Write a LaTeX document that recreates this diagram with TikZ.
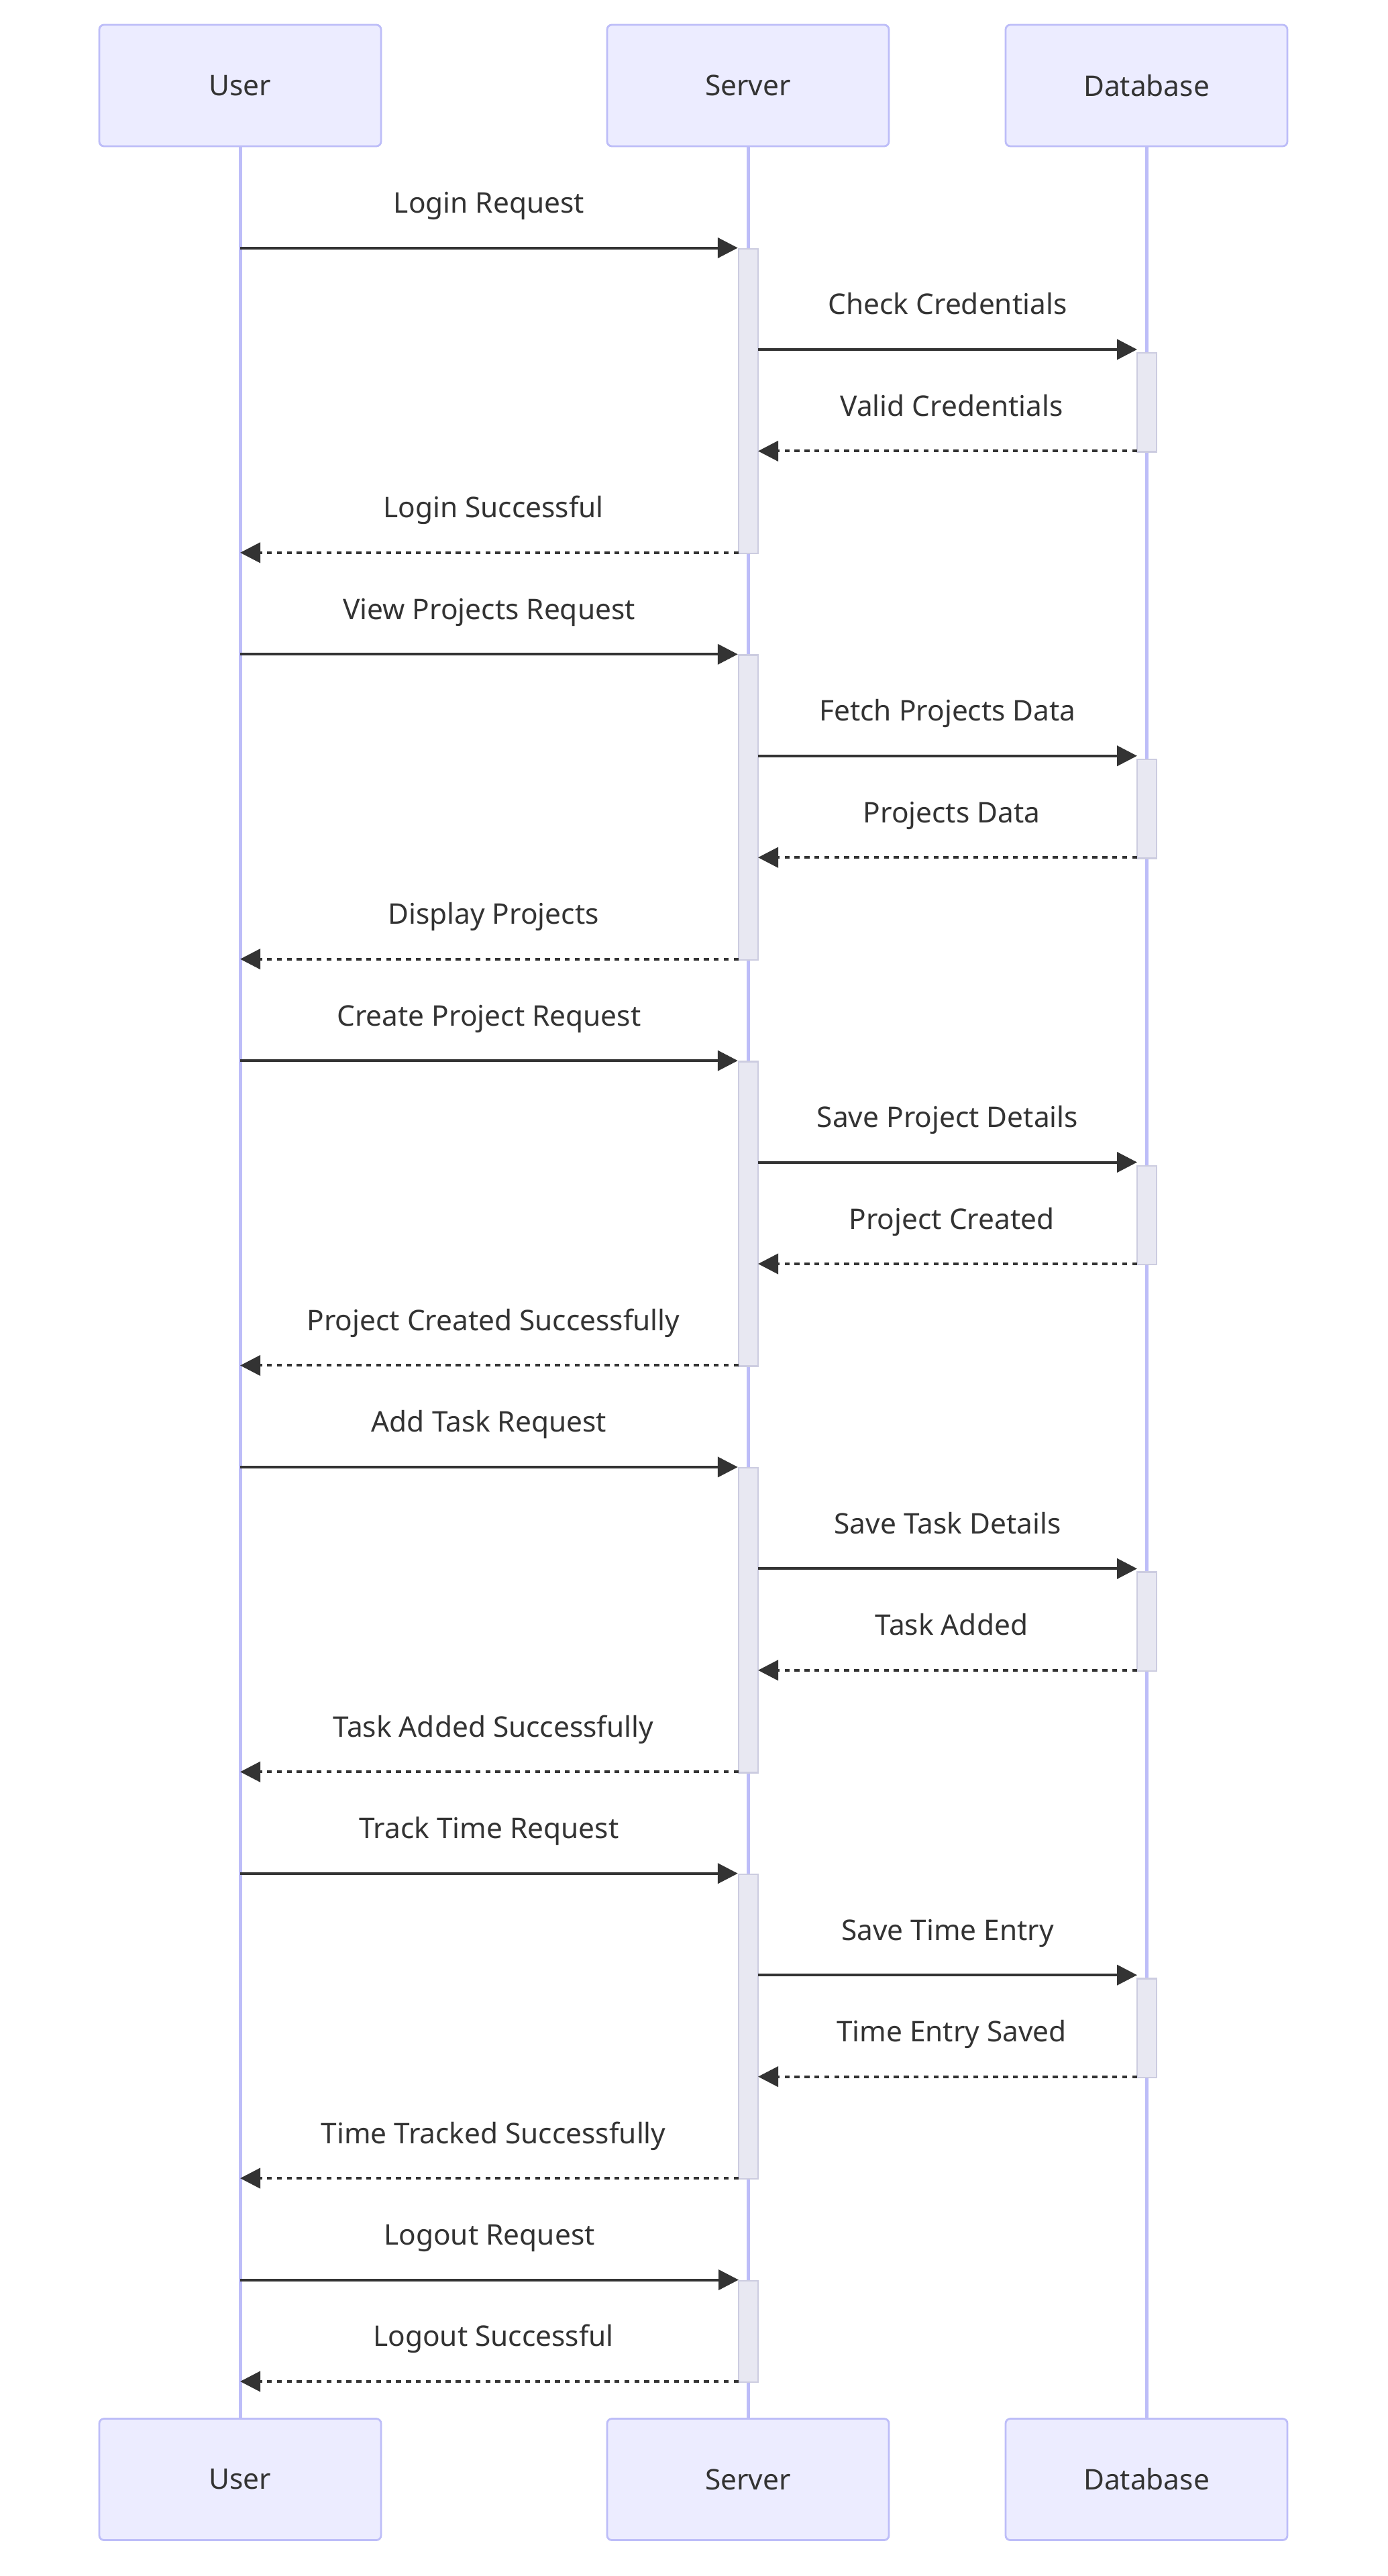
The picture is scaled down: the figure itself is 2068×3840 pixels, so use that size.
\documentclass[tikz,border=0pt]{standalone}
\usepackage{fontspec}
\setmainfont{Noto Sans}
\usetikzlibrary{arrows.meta}
\definecolor{actorfill}{HTML}{ECECFF}
\definecolor{actorline}{HTML}{BDBDF8}
\definecolor{actfill}{HTML}{E8E8F2}
\definecolor{actline}{HTML}{CCCCE0}
\definecolor{ink}{HTML}{333333}
\begin{document}
\begin{tikzpicture}[x=0.5pt,y=-0.5pt,
  actor/.style={draw=actorline,fill=actorfill,line width=1.4pt,rounded corners=3.5pt,
    minimum width=210pt,minimum height=90.5pt,inner sep=0pt,text=ink,
    font=\fontsize{21.2pt}{25pt}\selectfont},
  lifeline/.style={draw=actorline,line width=2.5pt},
  actbox/.style={draw=actline,fill=actfill,line width=1.2pt},
  msg/.style={draw=ink,line width=2pt,-{Triangle[length=15pt,width=15pt]}},
  reply/.style={msg,dash pattern=on 3.7pt off 3.7pt},
  lbl/.style={anchor=base,text=ink,inner sep=0pt,font=\fontsize{21.2pt}{25pt}\selectfont}]
\useasboundingbox (0,0) rectangle (2068,3840);
\fill[white] (0,0) rectangle (2068,3840);
% actors
\node[actor] (uT) at (358,127.5) {User};
\node[actor] (sT) at (1115,127.5) {Server};
\node[actor] (dT) at (1709,127.5) {Database};
\node[actor] (uB) at (358,3696) {User};
\node[actor] (sB) at (1115,3696) {Server};
\node[actor] (dB) at (1709,3696) {Database};
% lifelines
\draw[lifeline] (uT.south) -- (uB.north);
\draw[lifeline] (sT.south) -- (sB.north);
\draw[lifeline] (dT.south) -- (dB.north);
\def\st{151.45}
% groups of four messages
\foreach \k/\a/\b/\c/\d in {
  0/Login Request/Check Credentials/Valid Credentials/Login Successful,
  1/View Projects Request/Fetch Projects Data/Projects Data/Display Projects,
  2/Create Project Request/Save Project Details/Project Created/Project Created Successfully,
  3/Add Task Request/Save Task Details/Task Added/Task Added Successfully,
  4/Track Time Request/Save Time Entry/Time Entry Saved/Time Tracked Successfully}{
  \pgfmathsetmacro{\ya}{369.5+4*\k*\st}
  \pgfmathsetmacro{\yb}{\ya+\st}
  \pgfmathsetmacro{\yc}{\ya+2*\st}
  \pgfmathsetmacro{\yd}{\ya+3*\st}
  \node[actbox,minimum width=14.5pt,minimum height={(\yd-\ya)*0.5pt},inner sep=0pt,anchor=north]
    (sa\k) at (1115.5,\ya) {};
  \node[actbox,minimum width=14.5pt,minimum height={(\yc-\yb-4)*0.5pt},inner sep=0pt,anchor=north]
    (da\k) at (1709.5,\yb+4) {};
  \coordinate (u1\k) at (358,\ya);
  \coordinate (s1\k) at (sa\k.west |- u1\k);
  \coordinate (s2\k) at (1130,\yb);
  \coordinate (d2\k) at (1695,\yb);
  \coordinate (d3\k) at (1695,\yc);
  \coordinate (s3\k) at (1130,\yc);
  \coordinate (s4\k) at (1101,\yd);
  \coordinate (u4\k) at (358,\yd);
  \draw[msg] (u1\k) -- node[lbl,pos=0.5,yshift=26pt] {\a} (s1\k);
  \draw[msg] (s2\k) -- node[lbl,pos=0.5,yshift=26pt] {\b} (d2\k);
  \draw[reply] (d3\k) -- node[lbl,pos=0.5,yshift=26pt,xshift=3pt] {\c} (s3\k);
  \draw[reply] (s4\k) -- node[lbl,pos=0.5,yshift=26pt,xshift=3pt] {\d} (u4\k);
}
% logout
\pgfmathsetmacro{\ya}{369.5+20*\st}
\pgfmathsetmacro{\yb}{369.5+21*\st}
\node[actbox,minimum width=14.5pt,minimum height={(\yb-\ya)*0.5pt},inner sep=0pt,anchor=north]
  (saL) at (1115.5,\ya) {};
\coordinate (uL1) at (358,\ya);
\coordinate (sL1) at (1101,\ya);
\coordinate (sL2) at (1101,\yb);
\coordinate (uL2) at (358,\yb);
\draw[msg] (uL1) -- node[lbl,pos=0.5,yshift=26pt] {Logout Request} (sL1);
\draw[reply] (sL2) -- node[lbl,pos=0.5,yshift=26pt,xshift=3pt] {Logout Successful} (uL2);
\end{tikzpicture}
\end{document}
